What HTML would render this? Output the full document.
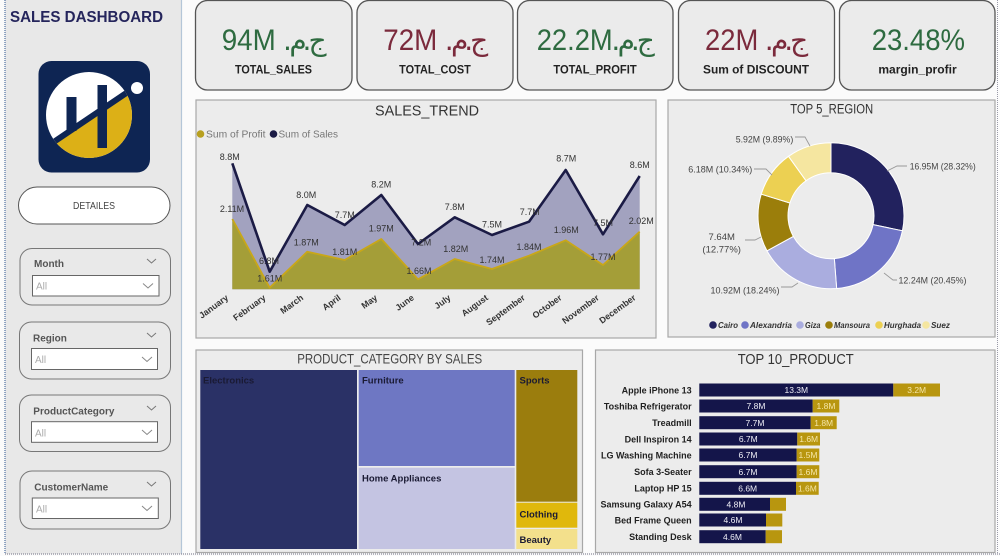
<!DOCTYPE html>
<html><head><meta charset="utf-8">
<style>
html,body{margin:0;padding:0;background:#fbfbfb;}
body{width:1000px;height:556px;overflow:hidden;font-family:"Liberation Sans","DejaVu Sans",sans-serif;}
svg{position:absolute;left:0;top:0;}
</style></head>
<body>
<svg width="1000" height="556" viewBox="0 0 1000 556" xmlns="http://www.w3.org/2000/svg" font-family="Liberation Sans, DejaVu Sans, sans-serif">
<defs>
<clipPath id="lc"><circle cx="89" cy="115" r="43"/></clipPath>
</defs>
<!-- sidebar -->
<rect x="5" y="0" width="176.5" height="554" fill="#e8e8e8"/>
<line x1="181.5" y1="0" x2="181.5" y2="554" stroke="#b4c6d8" stroke-width="1.2"/>
<line x1="5" y1="0" x2="5" y2="554" stroke="#5a7aa8" stroke-width="1.3" stroke-dasharray="1,1"/>
<line x1="5" y1="554" x2="1000" y2="554" stroke="#8a8a9a" stroke-width="1.3" stroke-dasharray="1,1"/>
<line x1="997.5" y1="0" x2="997.5" y2="554" stroke="#9a9aa8" stroke-width="1" stroke-dasharray="1,1"/>
<text x="10" y="22" font-size="16" font-weight="bold" fill="#25255c" textLength="153" lengthAdjust="spacingAndGlyphs">SALES DASHBOARD</text>

<!-- logo -->
<rect x="38.5" y="61" width="111.5" height="111.5" rx="13" fill="#0e2553"/>
<g clip-path="url(#lc)">
<rect x="40" y="60" width="110" height="110" fill="#ffffff"/>
<polygon points="30,158 150,77 150,170 30,170" fill="#dcb017"/>
<line x1="30" y1="158" x2="150" y2="77" stroke="#0e2553" stroke-width="6"/>
<rect x="66.5" y="97" width="10" height="34" fill="#0e2553"/>
<rect x="97.5" y="85" width="9.5" height="63" fill="#0e2553"/>
</g>
<circle cx="137" cy="88" r="6" fill="#ffffff"/>

<!-- details button -->
<rect x="18.5" y="187" width="151.5" height="37" rx="18.5" fill="#ffffff" stroke="#555" stroke-width="1"/>
<text x="94" y="209" font-size="10.5" fill="#444" text-anchor="middle" textLength="42" lengthAdjust="spacingAndGlyphs">DETAILES</text>

<!-- slicers -->
<g font-size="10" >
<rect x="20" y="248.5" width="150.5" height="56.5" rx="12" fill="#e9e9e9" stroke="#777" stroke-width="1"/>
<text x="34" y="267" font-weight="bold" fill="#555">Month</text>
<polyline points="147,259 151.5,263 156,259" fill="none" stroke="#777" stroke-width="1"/>
<rect x="32.5" y="275.5" width="126.5" height="20.5" fill="#fff" stroke="#666" stroke-width="1"/>
<text x="36" y="289.5" fill="#aaa">All</text>
<polyline points="143,283.5 148,288 153,283.5" fill="none" stroke="#888" stroke-width="1"/>

<rect x="19.5" y="322" width="151" height="57" rx="12" fill="#e9e9e9" stroke="#777" stroke-width="1"/>
<text x="33" y="341.5" font-weight="bold" fill="#555">Region</text>
<polyline points="147,333 151.5,337 156,333" fill="none" stroke="#777" stroke-width="1"/>
<rect x="31.5" y="348.5" width="126" height="21" fill="#fff" stroke="#666" stroke-width="1"/>
<text x="35" y="363" fill="#aaa">All</text>
<polyline points="142,357 147,361.5 152,357" fill="none" stroke="#888" stroke-width="1"/>

<rect x="19.5" y="395" width="151" height="56.5" rx="12" fill="#e9e9e9" stroke="#777" stroke-width="1"/>
<text x="33.3" y="414.5" font-weight="bold" fill="#555">ProductCategory</text>
<polyline points="147,406 151.5,410 156,406" fill="none" stroke="#777" stroke-width="1"/>
<rect x="31.5" y="421.7" width="126" height="20.6" fill="#fff" stroke="#666" stroke-width="1"/>
<text x="35" y="436.5" fill="#aaa">All</text>
<polyline points="142,430 147,434.5 152,430" fill="none" stroke="#888" stroke-width="1"/>

<rect x="20" y="471" width="150.5" height="58" rx="12" fill="#e9e9e9" stroke="#777" stroke-width="1"/>
<text x="34.3" y="490.5" font-weight="bold" fill="#555">CustomerName</text>
<polyline points="147,482 151.5,486 156,482" fill="none" stroke="#777" stroke-width="1"/>
<rect x="32.3" y="498" width="126" height="20.5" fill="#fff" stroke="#666" stroke-width="1"/>
<text x="36" y="512.5" fill="#aaa">All</text>
<polyline points="142,506 147,510.5 152,506" fill="none" stroke="#888" stroke-width="1"/>
</g>

<!-- KPI cards -->
<g fill="#ebebeb" stroke="#555" stroke-width="1.3">
<rect x="195.5" y="0.5" width="156.5" height="89.5" rx="12"/>
<rect x="357" y="0.5" width="156" height="89.5" rx="12"/>
<rect x="517.5" y="0.5" width="155.5" height="89.5" rx="12"/>
<rect x="678.5" y="0.5" width="156" height="89.5" rx="12"/>
<rect x="839.5" y="0.5" width="155.5" height="89.5" rx="12"/>
</g>
<g font-size="30">
<text x="221.7" y="50" fill="#2e6b40" textLength="54" lengthAdjust="spacingAndGlyphs">94M</text>
<text x="383.3" y="50" fill="#7b2a3c" textLength="54" lengthAdjust="spacingAndGlyphs">72M</text>
<text x="536.7" y="50" fill="#2e6b40" textLength="76" lengthAdjust="spacingAndGlyphs">22.2M</text>
<text x="705" y="50" fill="#7b2a3c" textLength="53.3" lengthAdjust="spacingAndGlyphs">22M</text>
<text x="871.7" y="50" fill="#2e6b40" textLength="93.3" lengthAdjust="spacingAndGlyphs">23.48%</text>
</g>
<!-- Arabic currency, placed glyph by glyph (visual order: . م . ج) -->
<g font-size="28" font-family="DejaVu Sans, sans-serif" text-anchor="middle">
<g fill="#2e6b40" transform="translate(285,0)">
<text x="2.5" y="50">.</text><text x="13" y="50">م</text><text x="22" y="50">.</text><text x="32.5" y="50">ج</text>
</g>
<g fill="#7b2a3c" transform="translate(446.7,0)">
<text x="2.5" y="50">.</text><text x="13" y="50">م</text><text x="22" y="50">.</text><text x="32.5" y="50">ج</text>
</g>
<g fill="#2e6b40" transform="translate(613.3,0)">
<text x="2.5" y="50">.</text><text x="13" y="50">م</text><text x="22" y="50">.</text><text x="32.5" y="50">ج</text>
</g>
<g fill="#7b2a3c" transform="translate(766.7,0)">
<text x="2.5" y="50">.</text><text x="13" y="50">م</text><text x="22" y="50">.</text><text x="32.5" y="50">ج</text>
</g>
</g>
<g font-size="11.5" font-weight="bold" fill="#222" text-anchor="middle">
<text x="273.5" y="73.5" textLength="77" lengthAdjust="spacingAndGlyphs">TOTAL_SALES</text>
<text x="435" y="73.5" textLength="71.7" lengthAdjust="spacingAndGlyphs">TOTAL_COST</text>
<text x="595" y="73.5" textLength="83.3" lengthAdjust="spacingAndGlyphs">TOTAL_PROFIT</text>
<text x="756" y="73.5" textLength="106" lengthAdjust="spacingAndGlyphs">Sum of DISCOUNT</text>
<text x="917.5" y="73.5" textLength="78.3" lengthAdjust="spacingAndGlyphs">margin_profir</text>
</g>

<!-- SALES TREND panel -->
<rect x="196" y="100" width="460" height="238" fill="#ececec" stroke="#a8a8a8" stroke-width="1.2"/>
<text x="427" y="115.5" font-size="15" fill="#333" text-anchor="middle" textLength="104" lengthAdjust="spacingAndGlyphs">SALES_TREND</text>
<circle cx="200.5" cy="134" r="3.8" fill="#b8a020"/>
<text x="206" y="137.5" font-size="10.5" fill="#777" textLength="59.5" lengthAdjust="spacingAndGlyphs">Sum of Profit</text>
<circle cx="273.5" cy="134" r="3.8" fill="#1b1b45"/>
<text x="278.5" y="137.5" font-size="10.5" fill="#777" textLength="59.5" lengthAdjust="spacingAndGlyphs">Sum of Sales</text>

<polygon points="232.3,163.3 269.7,271.7 307.3,205 344.7,225 381.3,195 418,244 454.7,217.3 492,235 529,221.7 565.7,170 603,234.3 639.7,176 639.7,289.3 232.3,289.3" fill="#a2a2bf"/>
<polygon points="232.3,219 269.7,287.7 307.3,251.7 344.7,260 381.3,239 418,279.3 454.7,259 492,269 529,255.7 565.7,240.3 603,265 639.7,231.7 639.7,289.3 232.3,289.3" fill="#a49e38"/>
<polyline points="232.3,219 269.7,287.7 307.3,251.7 344.7,260 381.3,239 418,279.3 454.7,259 492,269 529,255.7 565.7,240.3 603,265 639.7,231.7" fill="none" stroke="#c9a718" stroke-width="1.8" stroke-linejoin="round"/>
<polyline points="232.3,163.3 269.7,271.7 307.3,205 344.7,225 381.3,195 418,244 454.7,217.3 492,235 529,221.7 565.7,170 603,234.3 639.7,176" fill="none" stroke="#1b1b45" stroke-width="2.6" stroke-linejoin="round"/>

<g font-size="9" fill="#333" text-anchor="middle">
<text x="229.7" y="160">8.8M</text>
<text x="232" y="212">2.11M</text>
<text x="269" y="264">6.8M</text>
<text x="269.7" y="281.5">1.61M</text>
<text x="306.3" y="198">8.0M</text>
<text x="306.3" y="245.5">1.87M</text>
<text x="344.7" y="218">7.7M</text>
<text x="344.7" y="255">1.81M</text>
<text x="381.3" y="187.5">8.2M</text>
<text x="381.3" y="231.5">1.97M</text>
<text x="421.3" y="245.5">7.2M</text>
<text x="419" y="274">1.66M</text>
<text x="454.7" y="210">7.8M</text>
<text x="455.7" y="252">1.82M</text>
<text x="492" y="227.5">7.5M</text>
<text x="492" y="263">1.74M</text>
<text x="529.7" y="215">7.7M</text>
<text x="529" y="250">1.84M</text>
<text x="566.3" y="161.5">8.7M</text>
<text x="566.3" y="233">1.96M</text>
<text x="603" y="226">7.5M</text>
<text x="603" y="260">1.77M</text>
<text x="639.7" y="168">8.6M</text>
<text x="641.3" y="224">2.02M</text>
</g>
<g font-size="8.8" font-weight="bold" fill="#333" text-anchor="end">
<text transform="translate(229,299) rotate(-36)">January</text>
<text transform="translate(266.4,299) rotate(-36)">February</text>
<text transform="translate(304,299) rotate(-36)">March</text>
<text transform="translate(341.4,299) rotate(-36)">April</text>
<text transform="translate(378,299) rotate(-36)">May</text>
<text transform="translate(414.7,299) rotate(-36)">June</text>
<text transform="translate(451.4,299) rotate(-36)">July</text>
<text transform="translate(488.7,299) rotate(-36)">August</text>
<text transform="translate(525.7,299) rotate(-36)">September</text>
<text transform="translate(562.4,299) rotate(-36)">October</text>
<text transform="translate(599.7,299) rotate(-36)">November</text>
<text transform="translate(636.4,299) rotate(-36)">December</text>
</g>

<!-- REGION panel -->
<rect x="668" y="100" width="327" height="237" fill="#ececec" stroke="#a8a8a8" stroke-width="1.2"/>
<text x="831.7" y="113.5" font-size="13.5" fill="#333" text-anchor="middle" textLength="83" lengthAdjust="spacingAndGlyphs">TOP 5_REGION</text>
<g stroke="#ffffff" stroke-width="1">
<path d="M831,142.7 A73,73 0 0 1 902.42,230.82 L873.07,224.61 A43,43 0 0 0 831,172.7 Z" fill="#22225e"/>
<path d="M902.42,230.82 A73,73 0 0 1 836.64,288.48 L834.32,258.57 A43,43 0 0 0 873.07,224.61 Z" fill="#6f74c6"/>
<path d="M836.64,288.48 A73,73 0 0 1 767.01,250.83 L793.31,236.39 A43,43 0 0 0 834.32,258.57 Z" fill="#aaaddf"/>
<path d="M767.01,250.83 A73,73 0 0 1 761.27,194.11 L789.93,202.98 A43,43 0 0 0 793.31,236.39 Z" fill="#9b7e0b"/>
<path d="M761.27,194.11 A73,73 0 0 1 788.54,156.32 L805.99,180.72 A43,43 0 0 0 789.93,202.98 Z" fill="#ecd052"/>
<path d="M788.54,156.32 A73,73 0 0 1 831,142.7 L831,172.7 A43,43 0 0 0 805.99,180.72 Z" fill="#f5e6a0"/>
</g>
<g fill="none" stroke="#999" stroke-width="0.9">
<polyline points="887,171 897,166 907,166"/>
<polyline points="884,273 893,280 897,280"/>
<polyline points="781,287 792,287 798,283"/>
<polyline points="745,240 755,240 761,237"/>
<polyline points="754,169 766,169 772,175"/>
<polyline points="795,137 805,137 810,146"/>
</g>
<g font-size="9.5" fill="#444" text-anchor="middle">
<text x="942.7" y="169.5" textLength="66" lengthAdjust="spacingAndGlyphs">16.95M (28.32%)</text>
<text x="932.5" y="283.5" textLength="68" lengthAdjust="spacingAndGlyphs">12.24M (20.45%)</text>
<text x="745" y="293.5" textLength="69" lengthAdjust="spacingAndGlyphs">10.92M (18.24%)</text>
<text x="721.7" y="240">7.64M</text>
<text x="721.7" y="252.5">(12.77%)</text>
<text x="720.3" y="172.5" textLength="64" lengthAdjust="spacingAndGlyphs">6.18M (10.34%)</text>
<text x="764.5" y="142.5" textLength="57.6" lengthAdjust="spacingAndGlyphs">5.92M (9.89%)</text>
</g>
<g font-size="8.5" font-style="italic" font-weight="bold" fill="#333">
<circle cx="713" cy="325" r="3.8" fill="#22225e"/><text x="718" y="328" textLength="20" lengthAdjust="spacingAndGlyphs">Cairo</text>
<circle cx="745" cy="325" r="3.8" fill="#6f74c6"/><text x="750" y="328" textLength="42" lengthAdjust="spacingAndGlyphs">Alexandria</text>
<circle cx="800" cy="325" r="3.8" fill="#aaaddf"/><text x="805" y="328" textLength="15.5" lengthAdjust="spacingAndGlyphs">Giza</text>
<circle cx="829" cy="325" r="3.8" fill="#9b7e0b"/><text x="834" y="328" textLength="36" lengthAdjust="spacingAndGlyphs">Mansoura</text>
<circle cx="879" cy="325" r="3.8" fill="#ecd052"/><text x="884" y="328" textLength="37" lengthAdjust="spacingAndGlyphs">Hurghada</text>
<circle cx="926" cy="325" r="3.8" fill="#f5e6a0"/><text x="931" y="328" textLength="19" lengthAdjust="spacingAndGlyphs">Suez</text>
</g>

<!-- TREEMAP panel -->
<rect x="196" y="350" width="386.5" height="202.5" fill="#ececec" stroke="#a8a8a8" stroke-width="1.2"/>
<text x="389.7" y="363.5" font-size="14" fill="#444" text-anchor="middle" textLength="185" lengthAdjust="spacingAndGlyphs">PRODUCT_CATEGORY BY SALES</text>
<rect x="200.3" y="370" width="156.7" height="179" fill="#2a3166"/>
<rect x="358.7" y="370" width="156" height="96" fill="#6e77c3"/>
<rect x="358.7" y="467.7" width="156" height="81.3" fill="#c4c4e2"/>
<rect x="516.3" y="370" width="61" height="131.7" fill="#9b7d0d"/>
<rect x="516.3" y="502.7" width="61" height="25" fill="#e0b80c"/>
<rect x="516.3" y="529" width="61" height="20" fill="#f3e08c"/>
<g font-size="9.5" font-weight="bold" fill="#1a1a33">
<text x="203" y="383.5">Electronics</text>
<text x="362" y="383.5">Furniture</text>
<text x="362" y="481.5">Home Appliances</text>
<text x="519.5" y="383.5">Sports</text>
<text x="519.5" y="517.5">Clothing</text>
<text x="519.5" y="543">Beauty</text>
</g>

<!-- TOP 10 PRODUCT panel -->
<rect x="595.5" y="350" width="399.5" height="202.5" fill="#ececec" stroke="#a8a8a8" stroke-width="1.2"/>
<text x="795.7" y="364" font-size="14.5" fill="#333" text-anchor="middle" textLength="116" lengthAdjust="spacingAndGlyphs">TOP 10_PRODUCT</text>
<g fill="#14154a">
<rect x="699.3" y="383.5" width="194" height="13"/>
<rect x="699.3" y="399.5" width="113.4" height="13"/>
<rect x="699.3" y="416.2" width="111.4" height="13"/>
<rect x="699.3" y="432.5" width="98" height="13"/>
<rect x="699.3" y="448.5" width="97.4" height="13"/>
<rect x="699.3" y="465.2" width="97.4" height="13"/>
<rect x="699.3" y="481.8" width="96.7" height="13"/>
<rect x="699.3" y="497.8" width="70.7" height="13"/>
<rect x="699.3" y="513.5" width="66.7" height="13"/>
<rect x="699.3" y="530.2" width="66.4" height="13"/>
</g>
<g fill="#b8960f">
<rect x="893.3" y="383.5" width="46.7" height="13"/>
<rect x="812.7" y="399.5" width="26.6" height="13"/>
<rect x="810.7" y="416.2" width="26" height="13"/>
<rect x="797.3" y="432.5" width="22.7" height="13"/>
<rect x="796.7" y="448.5" width="22.6" height="13"/>
<rect x="796.7" y="465.2" width="22.6" height="13"/>
<rect x="796" y="481.8" width="22.7" height="13"/>
<rect x="770" y="497.8" width="16" height="13"/>
<rect x="766" y="513.5" width="16.3" height="13"/>
<rect x="765.7" y="530.2" width="16.3" height="13"/>
</g>
<g font-size="9" font-weight="bold" fill="#222" text-anchor="end">
<text x="691.7" y="393.3">Apple iPhone 13</text>
<text x="691.7" y="409.3">Toshiba Refrigerator</text>
<text x="691.7" y="426">Treadmill</text>
<text x="691.7" y="442.3">Dell Inspiron 14</text>
<text x="691.7" y="458.3">LG Washing Machine</text>
<text x="691.7" y="475">Sofa 3-Seater</text>
<text x="691.7" y="491.6">Laptop HP 15</text>
<text x="691.7" y="507.6">Samsung Galaxy A54</text>
<text x="691.7" y="523.3">Bed Frame Queen</text>
<text x="691.7" y="540">Standing Desk</text>
</g>
<g font-size="8.5" fill="#eeeef6" text-anchor="middle">
<text x="796.3" y="393.2">13.3M</text>
<text x="756" y="409.2">7.8M</text>
<text x="755" y="425.9">7.7M</text>
<text x="748.3" y="442.2">6.7M</text>
<text x="748" y="458.2">6.7M</text>
<text x="748" y="474.9">6.7M</text>
<text x="747.7" y="491.5">6.6M</text>
<text x="736" y="507.5">4.8M</text>
<text x="733" y="523.2">4.6M</text>
<text x="732.5" y="539.9">4.6M</text>
</g>
<g font-size="8.5" fill="#f5e6a6" text-anchor="middle">
<text x="916.7" y="393.2">3.2M</text>
<text x="826" y="409.2">1.8M</text>
<text x="823.7" y="425.9">1.8M</text>
<text x="808.7" y="442.2">1.6M</text>
<text x="808" y="458.2">1.5M</text>
<text x="808" y="474.9">1.6M</text>
<text x="807.4" y="491.5">1.6M</text>
</g>
</svg>
</body></html>
